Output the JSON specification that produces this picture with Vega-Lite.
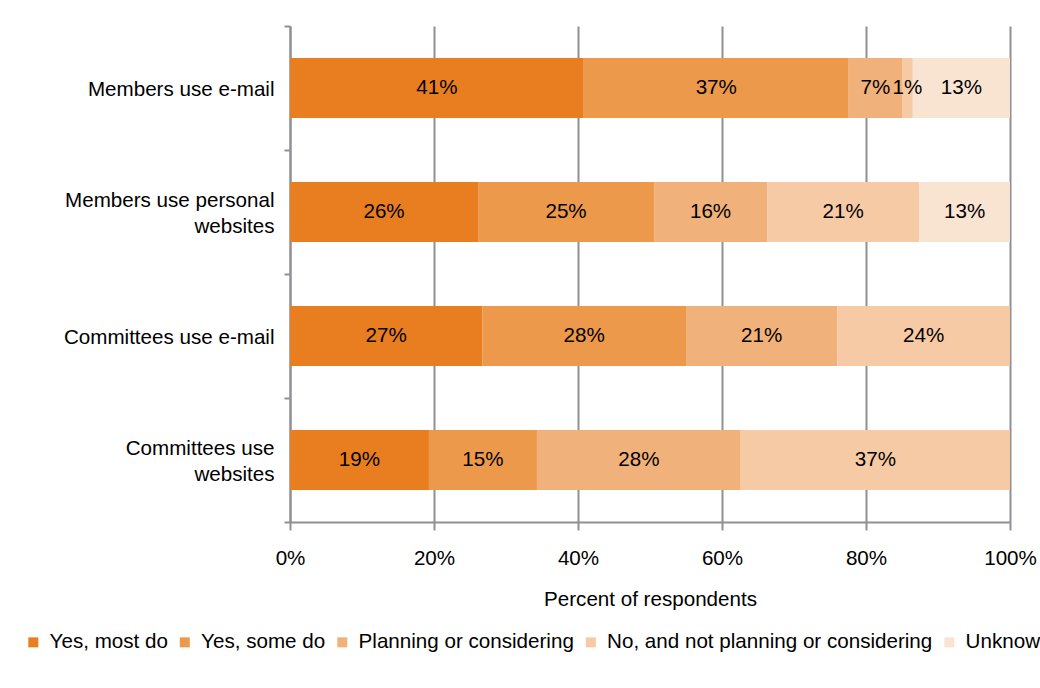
{
  "$schema": "https://vega.github.io/schema/vega-lite/v6.json",
  "width": 720,
  "height": 496,
  "autosize": {"type": "none"},
  "padding": {"left": 290, "top": 26, "right": 30, "bottom": 166},
  "background": "white",
  "config": {"font": "Liberation Sans", "view": {"stroke": null}},
  "data": {
    "values": [
      {"item": "Members use e-mail", "category": "Yes, most do", "k": 1, "share": 40.8, "label": "41%"},
      {"item": "Members use e-mail", "category": "Yes, some do", "k": 2, "share": 36.8, "label": "37%"},
      {"item": "Members use e-mail", "category": "Planning or considering", "k": 3, "share": 7.4, "label": "7%"},
      {"item": "Members use e-mail", "category": "No, and not planning or considering", "k": 4, "share": 1.5, "label": "1%"},
      {"item": "Members use e-mail", "category": "Unknown", "k": 5, "share": 13.5, "label": "13%"},
      {"item": "Members  use personal\nwebsites", "category": "Yes, most do", "k": 1, "share": 26.1, "label": "26%"},
      {"item": "Members  use personal\nwebsites", "category": "Yes, some do", "k": 2, "share": 24.4, "label": "25%"},
      {"item": "Members  use personal\nwebsites", "category": "Planning or considering", "k": 3, "share": 15.7, "label": "16%"},
      {"item": "Members  use personal\nwebsites", "category": "No, and not planning or considering", "k": 4, "share": 21.1, "label": "21%"},
      {"item": "Members  use personal\nwebsites", "category": "Unknown", "k": 5, "share": 12.6, "label": "13%"},
      {"item": "Committees use e-mail", "category": "Yes, most do", "k": 1, "share": 26.7, "label": "27%"},
      {"item": "Committees use e-mail", "category": "Yes, some do", "k": 2, "share": 28.3, "label": "28%"},
      {"item": "Committees use e-mail", "category": "Planning or considering", "k": 3, "share": 21.0, "label": "21%"},
      {"item": "Committees use e-mail", "category": "No, and not planning or considering", "k": 4, "share": 24.0, "label": "24%"},
      {"item": "Committees use\nwebsites", "category": "Yes, most do", "k": 1, "share": 19.3, "label": "19%"},
      {"item": "Committees use\nwebsites", "category": "Yes, some do", "k": 2, "share": 15.0, "label": "15%"},
      {"item": "Committees use\nwebsites", "category": "Planning or considering", "k": 3, "share": 28.3, "label": "28%"},
      {"item": "Committees use\nwebsites", "category": "No, and not planning or considering", "k": 4, "share": 37.4, "label": "37%"}
    ]
  },
  "encoding": {
    "y": {
      "field": "item",
      "type": "nominal",
      "sort": ["Members use e-mail", "Members  use personal\nwebsites", "Committees use e-mail", "Committees use\nwebsites"],
      "scale": {"paddingInner": 0, "paddingOuter": 0},
      "axis": {
        "title": null,
        "labelExpr": "indexof(datum.label, '\\n') >= 0 ? [split(datum.label, '\\n')[0], '\u2800', split(datum.label, '\\n')[1]] : ['\u2800', datum.label]",
        "labelFontSize": 20.6,
        "labelColor": "#000",
        "labelLineHeight": 13,
        "labelLimit": 0,
        "labelPadding": 10,
        "labelOffset": -12,
        "domainColor": "#909094",
        "domainWidth": 2,
        "tickColor": "#909094",
        "tickWidth": 2,
        "tickSize": 6,
        "tickBand": "extent",
        "grid": false
      }
    }
  },
  "layer": [
    {
      "mark": {"type": "bar", "size": 60},
      "encoding": {
        "x": {
          "field": "share",
          "type": "quantitative",
          "stack": "normalize",
          "scale": {"domain": [0, 1]},
          "axis": {
            "values": [0, 0.2, 0.4, 0.6, 0.8, 1],
            "format": ".0%",
            "title": "Percent of respondents",
            "titleFontSize": 20.6,
            "titleFontWeight": "normal",
            "titleColor": "#000",
            "titlePadding": 21,
            "labelFontSize": 20.6,
            "labelColor": "#000",
            "labelPadding": 18,
            "labelFlush": false,
            "grid": true,
            "gridColor": "#909094",
            "gridWidth": 2,
            "domainColor": "#909094",
            "domainWidth": 2,
            "tickColor": "#909094",
            "tickWidth": 2,
            "tickSize": 8
          }
        },
        "order": {"field": "k", "type": "quantitative"},
        "color": {
          "field": "category",
          "type": "nominal",
          "sort": ["Yes, most do", "Yes, some do", "Planning or considering", "No, and not planning or considering", "Unknown"],
          "scale": {
            "domain": ["Yes, most do", "Yes, some do", "Planning or considering", "No, and not planning or considering", "Unknown"],
            "range": ["#E87E1F", "#ED994C", "#F1B17A", "#F6CAA5", "#F9E4D2"]
          },
          "legend": {
            "orient": "none",
            "legendX": -267,
            "legendY": 606,
            "direction": "horizontal",
            "title": null,
            "symbolType": "square",
            "symbolSize": 100,
            "symbolStrokeWidth": 0,
            "labelFontSize": 20.6,
            "labelColor": "#000",
            "labelLimit": 0,
            "labelOffset": 6,
            "columnPadding": 6.5
          }
        }
      }
    },
    {
      "mark": {"type": "text", "fontSize": 20.6, "color": "#000", "baseline": "middle", "align": "center"},
      "encoding": {
        "x": {"field": "share", "type": "quantitative", "stack": "normalize", "bandPosition": 0.5},
        "order": {"field": "k", "type": "quantitative"},
        "detail": {"field": "category"},
        "text": {"field": "label"}
      }
    }
  ]
}
